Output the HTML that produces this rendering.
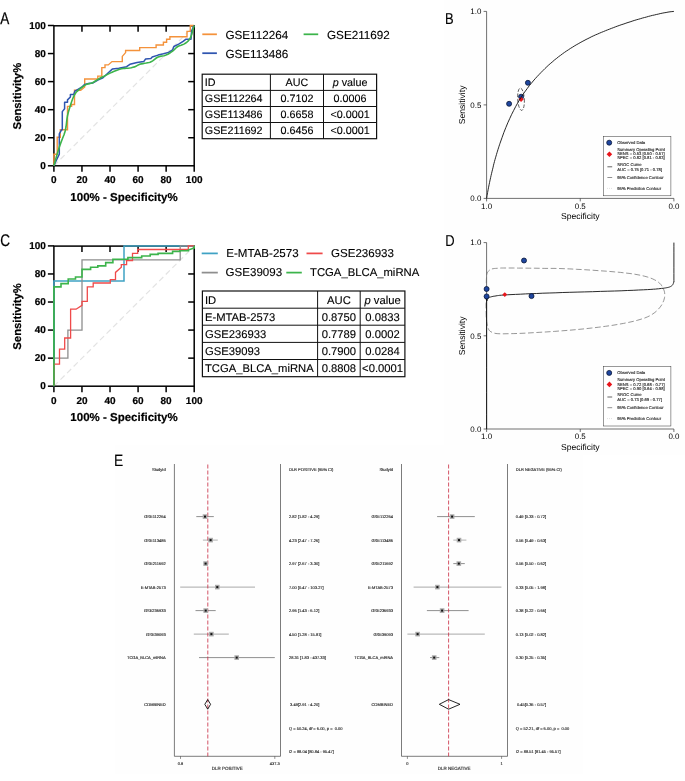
<!DOCTYPE html>
<html lang="en"><head><meta charset="utf-8"><title>Figure</title>
<style>html,body{margin:0;padding:0;background:#fff}svg{display:block}text{white-space:pre;text-rendering:geometricPrecision}</style></head>
<body>
<svg width="685" height="781" viewBox="0 0 685 781" font-family='"Liberation Sans", Arial, sans-serif'>
<rect width="685" height="781" fill="#fff"/>
<rect x="444.5" y="0" width="240.5" height="455" fill="#fefefe"/>
<rect x="114.8" y="445" width="468.6" height="329" fill="#fefefe"/>
<text transform="translate(0.2,23.9) scale(0.8,1)" font-size="16.9" fill="#000" stroke="#000" stroke-width="0.25">A</text>
<line x1="53.9" y1="165.8" x2="194.2" y2="25.8" stroke="#e3e3e3" stroke-width="1.2" stroke-dasharray="5.8 3.5"/>
<rect x="53.9" y="25.8" width="140.30" height="140.00" fill="none" stroke="#000" stroke-width="1.5"/>
<line x1="53.90" y1="165.8" x2="53.90" y2="171.8" stroke="#000" stroke-width="1.5"/>
<line x1="47.9" y1="165.80" x2="53.9" y2="165.80" stroke="#000" stroke-width="1.5"/>
<text x="53.90" y="183.10" font-size="10.0" text-anchor="middle" font-weight="bold" fill="#000" stroke="#000" stroke-width="0.2">0</text>
<text x="45.90" y="169.00" font-size="10.0" text-anchor="end" font-weight="bold" fill="#000" stroke="#000" stroke-width="0.2">0</text>
<line x1="81.96" y1="165.8" x2="81.96" y2="171.8" stroke="#000" stroke-width="1.5"/>
<line x1="47.9" y1="137.74" x2="53.9" y2="137.74" stroke="#000" stroke-width="1.5"/>
<line x1="81.96" y1="25.8" x2="81.96" y2="31.8" stroke="#000" stroke-width="1.5"/>
<line x1="188.2" y1="137.74" x2="194.2" y2="137.74" stroke="#000" stroke-width="1.5"/>
<text x="81.96" y="183.10" font-size="10.0" text-anchor="middle" font-weight="bold" fill="#000" stroke="#000" stroke-width="0.2">20</text>
<text x="45.90" y="140.94" font-size="10.0" text-anchor="end" font-weight="bold" fill="#000" stroke="#000" stroke-width="0.2">20</text>
<line x1="110.02" y1="165.8" x2="110.02" y2="171.8" stroke="#000" stroke-width="1.5"/>
<line x1="47.9" y1="109.68" x2="53.9" y2="109.68" stroke="#000" stroke-width="1.5"/>
<line x1="110.02" y1="25.8" x2="110.02" y2="31.8" stroke="#000" stroke-width="1.5"/>
<line x1="188.2" y1="109.68" x2="194.2" y2="109.68" stroke="#000" stroke-width="1.5"/>
<text x="110.02" y="183.10" font-size="10.0" text-anchor="middle" font-weight="bold" fill="#000" stroke="#000" stroke-width="0.2">40</text>
<text x="45.90" y="112.88" font-size="10.0" text-anchor="end" font-weight="bold" fill="#000" stroke="#000" stroke-width="0.2">40</text>
<line x1="138.08" y1="165.8" x2="138.08" y2="171.8" stroke="#000" stroke-width="1.5"/>
<line x1="47.9" y1="81.62" x2="53.9" y2="81.62" stroke="#000" stroke-width="1.5"/>
<line x1="138.08" y1="25.8" x2="138.08" y2="31.8" stroke="#000" stroke-width="1.5"/>
<line x1="188.2" y1="81.62" x2="194.2" y2="81.62" stroke="#000" stroke-width="1.5"/>
<text x="138.08" y="183.10" font-size="10.0" text-anchor="middle" font-weight="bold" fill="#000" stroke="#000" stroke-width="0.2">60</text>
<text x="45.90" y="84.82" font-size="10.0" text-anchor="end" font-weight="bold" fill="#000" stroke="#000" stroke-width="0.2">60</text>
<line x1="166.14" y1="165.8" x2="166.14" y2="171.8" stroke="#000" stroke-width="1.5"/>
<line x1="47.9" y1="53.56" x2="53.9" y2="53.56" stroke="#000" stroke-width="1.5"/>
<line x1="166.14" y1="25.8" x2="166.14" y2="31.8" stroke="#000" stroke-width="1.5"/>
<line x1="188.2" y1="53.56" x2="194.2" y2="53.56" stroke="#000" stroke-width="1.5"/>
<text x="166.14" y="183.10" font-size="10.0" text-anchor="middle" font-weight="bold" fill="#000" stroke="#000" stroke-width="0.2">80</text>
<text x="45.90" y="56.76" font-size="10.0" text-anchor="end" font-weight="bold" fill="#000" stroke="#000" stroke-width="0.2">80</text>
<line x1="194.20" y1="165.8" x2="194.20" y2="171.8" stroke="#000" stroke-width="1.5"/>
<line x1="47.9" y1="25.50" x2="53.9" y2="25.50" stroke="#000" stroke-width="1.5"/>
<text x="194.20" y="183.10" font-size="10.0" text-anchor="middle" font-weight="bold" fill="#000" stroke="#000" stroke-width="0.2">100</text>
<text x="45.90" y="28.70" font-size="10.0" text-anchor="end" font-weight="bold" fill="#000" stroke="#000" stroke-width="0.2">100</text>
<text x="124.05" y="200.50" font-size="11.5" text-anchor="middle" font-weight="bold" fill="#000" stroke="#000" stroke-width="0.2">100% - Specificity%</text>
<text transform="translate(20.8,96.1) rotate(-90)" font-size="11.3" text-anchor="middle" font-weight="bold" fill="#000" stroke="#000" stroke-width="0.2">Sensitivity%</text>
<polyline points="53.9,165.7 53.9,154.3 57.2,154.3 57.2,137.3 60.3,137.3 60.3,129.7 67.5,129.7 67.5,106.4 71.6,106.4 71.6,104.5 74.5,104.5 74.5,98.2 74.5,90.2 80.7,90.2 84.7,87.0 84.7,79.0 97.8,79.0 97.8,76.1 101.8,76.1 101.8,67.6 105.0,67.6 105.0,64.9 108.3,64.9 112.0,61.6 122.3,61.6 122.3,56.4 125.6,52.6 125.6,50.5 139.7,50.5 139.7,47.6 156.1,47.6 156.1,45.0 163.4,45.0 163.4,42.3 166.6,42.3 166.6,39.3 169.9,39.3 169.9,36.7 187.0,36.7 187.0,31.4 190.3,31.4 190.3,25.5 194.2,25.5" fill="none" stroke="#f4923b" stroke-width="1.4" stroke-linejoin="miter"/>
<polyline points="53.9,165.7 56.5,160.0 59.3,154.2 59.3,133.8 61.7,129.7 62.3,129.7 62.3,111.6 64.6,108.7 64.6,102.3 67.5,102.3 67.5,99.9 70.4,97.0 70.4,94.6 73.7,94.6 74.8,91.2 78.0,89.3 82.0,87.0 84.7,84.4 88.5,83.6 92.6,83.1 97.8,80.0 103.0,77.8 108.3,72.8 112.3,69.1 118.8,68.2 126.6,66.7 129.9,64.3 137.1,62.6 143.7,61.6 145.6,59.0 150.9,58.4 152.2,57.0 158.1,55.1 163.4,53.8 168.6,52.4 172.6,49.8 173.9,46.5 179.1,43.9 183.1,41.3 185.7,39.3 191.0,39.3 191.6,30.8 192.9,28.1 194.2,25.5" fill="none" stroke="#2f55b0" stroke-width="1.5" stroke-linejoin="round"/>
<polyline points="53.9,165.7 54.9,162.3 56.2,157.5 57.8,152.1 59.3,147.2 60.8,142.9 62.4,138.8 64.0,134.8 65.2,130.9 66.0,127.0 66.5,123.2 66.9,119.4 67.5,115.7 68.4,112.0 69.5,108.3 70.6,104.8 71.6,101.7 72.5,99.2 73.4,97.0 74.4,95.2 75.3,93.6 76.2,92.3 77.2,91.3 78.2,90.4 79.4,89.4 80.9,88.2 82.5,86.9 84.3,85.6 86.0,84.6 87.7,84.0 89.3,83.6 91.0,83.3 92.6,82.7 94.2,81.8 95.8,80.8 97.5,79.7 99.1,78.7 100.7,77.8 102.3,77.0 104.0,76.3 105.7,75.4 107.6,74.4 109.6,73.4 111.6,72.4 113.6,71.5 115.6,70.7 117.6,69.9 119.6,69.3 121.5,68.8 123.2,68.5 124.8,68.4 126.3,68.3 127.9,68.2 129.6,68.0 131.3,67.7 132.9,67.3 134.5,66.9 135.9,66.3 137.1,65.6 138.3,64.9 139.7,64.3 141.3,63.9 143.0,63.6 144.7,63.3 146.3,63.0 147.7,62.7 148.9,62.5 150.1,62.2 151.5,61.6 153.0,60.6 154.6,59.3 156.3,58.0 158.1,57.0 160.0,56.4 162.1,56.0 164.1,55.7 166.0,55.1 167.8,54.3 169.5,53.3 171.1,52.2 172.6,51.1 174.0,49.9 175.2,48.7 176.4,47.5 177.8,46.5 179.4,45.7 181.1,45.2 182.9,44.6 184.4,43.9 185.7,43.0 186.9,42.1 188.0,41.1 189.0,40.0 189.8,38.8 190.5,37.4 191.1,36.1 191.6,34.7 192.0,33.4 192.3,32.0 192.6,30.7 192.9,29.5 193.3,28.3 193.6,27.2 194.0,26.2 194.2,25.5" fill="none" stroke="#3cb44b" stroke-width="1.6" stroke-linejoin="round"/>
<line x1="202.3" y1="34.3" x2="216.9" y2="34.3" stroke="#f4923b" stroke-width="1.75"/>
<text x="225.40" y="38.60" font-size="11.7" text-anchor="start" font-weight="normal" fill="#000"  stroke="#000" stroke-width="0.12">GSE112264</text>
<line x1="303.6" y1="34.3" x2="318.2" y2="34.3" stroke="#3cb44b" stroke-width="1.75"/>
<text x="327.00" y="38.60" font-size="11.7" text-anchor="start" font-weight="normal" fill="#000"  stroke="#000" stroke-width="0.12">GSE211692</text>
<line x1="202.3" y1="53.2" x2="216.9" y2="53.2" stroke="#2f55b0" stroke-width="1.75"/>
<text x="225.40" y="57.50" font-size="11.7" text-anchor="start" font-weight="normal" fill="#000"  stroke="#000" stroke-width="0.12">GSE113486</text>
<rect x="202.2" y="74.2" width="174.40" height="64.50" fill="#fff" stroke="#111" stroke-width="1.2"/>
<line x1="270.4" y1="74.2" x2="270.4" y2="138.7" stroke="#111" stroke-width="1.0"/>
<line x1="323.5" y1="74.2" x2="323.5" y2="138.7" stroke="#111" stroke-width="1.0"/>
<line x1="202.2" y1="90.4" x2="376.6" y2="90.4" stroke="#111" stroke-width="1.0"/>
<line x1="202.2" y1="106.5" x2="376.6" y2="106.5" stroke="#111" stroke-width="1.0"/>
<line x1="202.2" y1="122.5" x2="376.6" y2="122.5" stroke="#111" stroke-width="1.0"/>
<text x="204.80" y="85.80" font-size="10.75" text-anchor="start" font-weight="normal" fill="#000"  stroke="#000" stroke-width="0.12">ID</text>
<text x="296.95" y="85.80" font-size="10.75" text-anchor="middle" font-weight="normal" fill="#000"  stroke="#000" stroke-width="0.12">AUC</text>
<text x="350.05" y="85.80" font-size="10.75" text-anchor="middle" font-weight="normal" fill="#000"  stroke="#000" stroke-width="0.12"><tspan font-style="italic">p</tspan> value</text>
<text x="204.80" y="101.90" font-size="10.75" text-anchor="start" font-weight="normal" fill="#000"  stroke="#000" stroke-width="0.12">GSE112264</text>
<text x="296.95" y="101.90" font-size="10.75" text-anchor="middle" font-weight="normal" fill="#000"  stroke="#000" stroke-width="0.12">0.7102</text>
<text x="350.05" y="101.90" font-size="10.75" text-anchor="middle" font-weight="normal" fill="#000"  stroke="#000" stroke-width="0.12">0.0006</text>
<text x="204.80" y="117.90" font-size="10.75" text-anchor="start" font-weight="normal" fill="#000"  stroke="#000" stroke-width="0.12">GSE113486</text>
<text x="296.95" y="117.90" font-size="10.75" text-anchor="middle" font-weight="normal" fill="#000"  stroke="#000" stroke-width="0.12">0.6658</text>
<text x="350.05" y="117.90" font-size="10.75" text-anchor="middle" font-weight="normal" fill="#000"  stroke="#000" stroke-width="0.12">&lt;0.0001</text>
<text x="204.80" y="134.10" font-size="10.75" text-anchor="start" font-weight="normal" fill="#000"  stroke="#000" stroke-width="0.12">GSE211692</text>
<text x="296.95" y="134.10" font-size="10.75" text-anchor="middle" font-weight="normal" fill="#000"  stroke="#000" stroke-width="0.12">0.6456</text>
<text x="350.05" y="134.10" font-size="10.75" text-anchor="middle" font-weight="normal" fill="#000"  stroke="#000" stroke-width="0.12">&lt;0.0001</text>
<text transform="translate(0.3,246.1) scale(0.8,1)" font-size="16.9" fill="#000" stroke="#000" stroke-width="0.25">C</text>
<line x1="53.9" y1="386.2" x2="194.2" y2="246.1" stroke="#e3e3e3" stroke-width="1.2" stroke-dasharray="5.8 3.5"/>
<rect x="53.9" y="246.1" width="140.30" height="140.10" fill="none" stroke="#000" stroke-width="1.5"/>
<line x1="53.90" y1="386.2" x2="53.90" y2="392.2" stroke="#000" stroke-width="1.5"/>
<line x1="47.9" y1="386.20" x2="53.9" y2="386.20" stroke="#000" stroke-width="1.5"/>
<text x="53.90" y="403.50" font-size="10.0" text-anchor="middle" font-weight="bold" fill="#000" stroke="#000" stroke-width="0.2">0</text>
<text x="45.90" y="389.40" font-size="10.0" text-anchor="end" font-weight="bold" fill="#000" stroke="#000" stroke-width="0.2">0</text>
<line x1="81.96" y1="386.2" x2="81.96" y2="392.2" stroke="#000" stroke-width="1.5"/>
<line x1="47.9" y1="358.14" x2="53.9" y2="358.14" stroke="#000" stroke-width="1.5"/>
<line x1="81.96" y1="246.1" x2="81.96" y2="252.1" stroke="#000" stroke-width="1.5"/>
<line x1="188.2" y1="358.14" x2="194.2" y2="358.14" stroke="#000" stroke-width="1.5"/>
<text x="81.96" y="403.50" font-size="10.0" text-anchor="middle" font-weight="bold" fill="#000" stroke="#000" stroke-width="0.2">20</text>
<text x="45.90" y="361.34" font-size="10.0" text-anchor="end" font-weight="bold" fill="#000" stroke="#000" stroke-width="0.2">20</text>
<line x1="110.02" y1="386.2" x2="110.02" y2="392.2" stroke="#000" stroke-width="1.5"/>
<line x1="47.9" y1="330.08" x2="53.9" y2="330.08" stroke="#000" stroke-width="1.5"/>
<line x1="110.02" y1="246.1" x2="110.02" y2="252.1" stroke="#000" stroke-width="1.5"/>
<line x1="188.2" y1="330.08" x2="194.2" y2="330.08" stroke="#000" stroke-width="1.5"/>
<text x="110.02" y="403.50" font-size="10.0" text-anchor="middle" font-weight="bold" fill="#000" stroke="#000" stroke-width="0.2">40</text>
<text x="45.90" y="333.28" font-size="10.0" text-anchor="end" font-weight="bold" fill="#000" stroke="#000" stroke-width="0.2">40</text>
<line x1="138.08" y1="386.2" x2="138.08" y2="392.2" stroke="#000" stroke-width="1.5"/>
<line x1="47.9" y1="302.02" x2="53.9" y2="302.02" stroke="#000" stroke-width="1.5"/>
<line x1="138.08" y1="246.1" x2="138.08" y2="252.1" stroke="#000" stroke-width="1.5"/>
<line x1="188.2" y1="302.02" x2="194.2" y2="302.02" stroke="#000" stroke-width="1.5"/>
<text x="138.08" y="403.50" font-size="10.0" text-anchor="middle" font-weight="bold" fill="#000" stroke="#000" stroke-width="0.2">60</text>
<text x="45.90" y="305.22" font-size="10.0" text-anchor="end" font-weight="bold" fill="#000" stroke="#000" stroke-width="0.2">60</text>
<line x1="166.14" y1="386.2" x2="166.14" y2="392.2" stroke="#000" stroke-width="1.5"/>
<line x1="47.9" y1="273.96" x2="53.9" y2="273.96" stroke="#000" stroke-width="1.5"/>
<line x1="166.14" y1="246.1" x2="166.14" y2="252.1" stroke="#000" stroke-width="1.5"/>
<line x1="188.2" y1="273.96" x2="194.2" y2="273.96" stroke="#000" stroke-width="1.5"/>
<text x="166.14" y="403.50" font-size="10.0" text-anchor="middle" font-weight="bold" fill="#000" stroke="#000" stroke-width="0.2">80</text>
<text x="45.90" y="277.16" font-size="10.0" text-anchor="end" font-weight="bold" fill="#000" stroke="#000" stroke-width="0.2">80</text>
<line x1="194.20" y1="386.2" x2="194.20" y2="392.2" stroke="#000" stroke-width="1.5"/>
<line x1="47.9" y1="245.90" x2="53.9" y2="245.90" stroke="#000" stroke-width="1.5"/>
<text x="194.20" y="403.50" font-size="10.0" text-anchor="middle" font-weight="bold" fill="#000" stroke="#000" stroke-width="0.2">100</text>
<text x="45.90" y="249.10" font-size="10.0" text-anchor="end" font-weight="bold" fill="#000" stroke="#000" stroke-width="0.2">100</text>
<text x="124.05" y="420.90" font-size="11.5" text-anchor="middle" font-weight="bold" fill="#000" stroke="#000" stroke-width="0.2">100% - Specificity%</text>
<text transform="translate(20.8,316.4) rotate(-90)" font-size="11.3" text-anchor="middle" font-weight="bold" fill="#000" stroke="#000" stroke-width="0.2">Sensitivity%</text>
<polyline points="53.9,386.2 53.9,281.0 124.0,281.0 124.0,245.9 194.2,245.9" fill="none" stroke="#3fa2c4" stroke-width="1.5"/>
<polyline points="53.9,386.2 53.9,358.1 67.9,358.1 67.9,330.1 82.0,330.1 82.0,259.9 180.2,259.9 180.2,245.9 194.2,245.9" fill="none" stroke="#8e8e8e" stroke-width="1.3"/>
<polyline points="53.9,386.1 53.9,364.1 59.5,364.1 59.5,349.2 64.7,349.2 64.7,338.0 70.6,338.0 70.6,309.2 76.1,309.2 82.0,305.3 82.0,301.4 87.3,301.4 87.3,286.9 93.2,286.9 93.2,283.0 110.3,283.0 110.3,279.7 115.5,279.7 115.5,272.4 121.3,267.2 121.3,264.6 126.6,264.6 126.6,260.6 132.5,260.6 132.5,253.4 137.7,253.4 137.7,249.5 188.3,249.5 188.3,245.8 194.2,245.8" fill="none" stroke="#ef4a4a" stroke-width="1.3"/>
<polyline points="53.9,386.1 53.9,286.9 61.0,286.9 61.0,283.6 68.2,283.6 68.2,279.0 75.5,279.0 75.5,277.0 82.0,277.0 82.0,275.7 82.0,269.4 90.6,269.4 90.6,267.2 97.8,267.2 97.8,265.9 105.7,265.9 105.7,262.6 112.9,262.6 112.9,259.3 127.9,259.3 127.9,257.6 141.7,257.6 141.7,256.0 150.2,256.0 150.2,254.4 158.1,254.4 158.1,253.4 172.6,253.4 172.6,251.4 179.8,251.4 179.8,250.8 188.3,250.8 188.3,250.0 194.2,248.0 194.2,245.8" fill="none" stroke="#3cb44b" stroke-width="1.6"/>
<line x1="201.7" y1="253.4" x2="217.8" y2="253.4" stroke="#3fa2c4" stroke-width="1.75"/>
<text x="226.30" y="257.00" font-size="11.55" text-anchor="start" font-weight="normal" fill="#000"  stroke="#000" stroke-width="0.12">E-MTAB-2573</text>
<line x1="306.5" y1="253.4" x2="322.6" y2="253.4" stroke="#ef4a4a" stroke-width="1.75"/>
<text x="331.00" y="257.00" font-size="11.55" text-anchor="start" font-weight="normal" fill="#000"  stroke="#000" stroke-width="0.12">GSE236933</text>
<line x1="201.7" y1="272.6" x2="217.8" y2="272.6" stroke="#8e8e8e" stroke-width="1.75"/>
<text x="225.60" y="276.40" font-size="11.55" text-anchor="start" font-weight="normal" fill="#000"  stroke="#000" stroke-width="0.12">GSE39093</text>
<line x1="286.3" y1="272.6" x2="301.8" y2="272.6" stroke="#3cb44b" stroke-width="1.75"/>
<text x="310.00" y="276.40" font-size="11.3" text-anchor="start" font-weight="normal" fill="#000"  stroke="#000" stroke-width="0.12">TCGA_BLCA_miRNA</text>
<rect x="202.4" y="291" width="202.50" height="85.70" fill="#fff" stroke="#111" stroke-width="1.2"/>
<line x1="317.6" y1="291" x2="317.6" y2="376.7" stroke="#111" stroke-width="1.0"/>
<line x1="360.2" y1="291" x2="360.2" y2="376.7" stroke="#111" stroke-width="1.0"/>
<line x1="202.4" y1="308.2" x2="404.9" y2="308.2" stroke="#111" stroke-width="1.0"/>
<line x1="202.4" y1="325.2" x2="404.9" y2="325.2" stroke="#111" stroke-width="1.0"/>
<line x1="202.4" y1="342.4" x2="404.9" y2="342.4" stroke="#111" stroke-width="1.0"/>
<line x1="202.4" y1="359.5" x2="404.9" y2="359.5" stroke="#111" stroke-width="1.0"/>
<text x="205.00" y="303.80" font-size="11.24" text-anchor="start" font-weight="normal" fill="#000"  stroke="#000" stroke-width="0.12">ID</text>
<text x="338.90" y="303.80" font-size="11.24" text-anchor="middle" font-weight="normal" fill="#000"  stroke="#000" stroke-width="0.12">AUC</text>
<text x="382.55" y="303.80" font-size="11.24" text-anchor="middle" font-weight="normal" fill="#000"  stroke="#000" stroke-width="0.12"><tspan font-style="italic">p</tspan> value</text>
<text x="205.00" y="320.80" font-size="11.24" text-anchor="start" font-weight="normal" fill="#000"  stroke="#000" stroke-width="0.12">E-MTAB-2573</text>
<text x="338.90" y="320.80" font-size="11.24" text-anchor="middle" font-weight="normal" fill="#000"  stroke="#000" stroke-width="0.12">0.8750</text>
<text x="382.55" y="320.80" font-size="11.24" text-anchor="middle" font-weight="normal" fill="#000"  stroke="#000" stroke-width="0.12">0.0833</text>
<text x="205.00" y="338.00" font-size="11.24" text-anchor="start" font-weight="normal" fill="#000"  stroke="#000" stroke-width="0.12">GSE236933</text>
<text x="338.90" y="338.00" font-size="11.24" text-anchor="middle" font-weight="normal" fill="#000"  stroke="#000" stroke-width="0.12">0.7789</text>
<text x="382.55" y="338.00" font-size="11.24" text-anchor="middle" font-weight="normal" fill="#000"  stroke="#000" stroke-width="0.12">0.0002</text>
<text x="205.00" y="355.10" font-size="11.24" text-anchor="start" font-weight="normal" fill="#000"  stroke="#000" stroke-width="0.12">GSE39093</text>
<text x="338.90" y="355.10" font-size="11.24" text-anchor="middle" font-weight="normal" fill="#000"  stroke="#000" stroke-width="0.12">0.7900</text>
<text x="382.55" y="355.10" font-size="11.24" text-anchor="middle" font-weight="normal" fill="#000"  stroke="#000" stroke-width="0.12">0.0284</text>
<text x="205.00" y="372.30" font-size="11.24" text-anchor="start" font-weight="normal" fill="#000"  stroke="#000" stroke-width="0.12">TCGA_BLCA_miRNA</text>
<text x="338.90" y="372.30" font-size="11.24" text-anchor="middle" font-weight="normal" fill="#000"  stroke="#000" stroke-width="0.12">0.8808</text>
<text x="382.55" y="372.30" font-size="11.24" text-anchor="middle" font-weight="normal" fill="#000"  stroke="#000" stroke-width="0.12">&lt;0.0001</text>
<line x1="486.6" y1="11.4" x2="486.6" y2="198.4" stroke="#333" stroke-width="0.7"/>
<line x1="486.6" y1="198.4" x2="673.9" y2="198.4" stroke="#333" stroke-width="0.7"/>
<line x1="483.6" y1="11.40" x2="486.6" y2="11.40" stroke="#333" stroke-width="0.7"/>
<text x="481.40" y="14.25" font-size="7.95" text-anchor="end" font-weight="normal" fill="#000" >1.0</text>
<line x1="486.60" y1="198.4" x2="486.60" y2="201.4" stroke="#333" stroke-width="0.7"/>
<text x="486.60" y="208.55" font-size="7.95" text-anchor="middle" font-weight="normal" fill="#000" >1.0</text>
<line x1="483.6" y1="104.90" x2="486.6" y2="104.90" stroke="#333" stroke-width="0.7"/>
<text x="481.40" y="107.75" font-size="7.95" text-anchor="end" font-weight="normal" fill="#000" >0.5</text>
<line x1="580.25" y1="198.4" x2="580.25" y2="201.4" stroke="#333" stroke-width="0.7"/>
<text x="580.25" y="208.55" font-size="7.95" text-anchor="middle" font-weight="normal" fill="#000" >0.5</text>
<line x1="483.6" y1="198.40" x2="486.6" y2="198.40" stroke="#333" stroke-width="0.7"/>
<text x="481.40" y="201.25" font-size="7.95" text-anchor="end" font-weight="normal" fill="#000" >0.0</text>
<line x1="673.90" y1="198.4" x2="673.90" y2="201.4" stroke="#333" stroke-width="0.7"/>
<text x="673.90" y="208.55" font-size="7.95" text-anchor="middle" font-weight="normal" fill="#000" >0.0</text>
<text x="580.25" y="219.00" font-size="8.6" text-anchor="middle" font-weight="normal" fill="#000" >Specificity</text>
<text transform="translate(465.0,104.9) rotate(-90)" font-size="8.6" text-anchor="middle" fill="#000">Sensitivity</text>
<text transform="translate(445.0,23.9) scale(0.82,1)" font-size="15.8" fill="#000" stroke="#000" stroke-width="0.1">B</text>
<circle cx="509.1" cy="103.8" r="2.5" fill="#1f469f" stroke="#0a1838" stroke-width="0.8"/>
<circle cx="521.1" cy="96.7" r="2.5" fill="#1f469f" stroke="#0a1838" stroke-width="0.8"/>
<circle cx="527.9" cy="82.8" r="2.5" fill="#1f469f" stroke="#0a1838" stroke-width="0.8"/>
<polygon points="518.5,99.3 521.1,96.7 523.7,99.3 521.1,101.89999999999999" fill="#e8151b"/>
<polyline points="486.6,198.4 487.1,195.4 487.6,192.5 488.1,189.8 488.6,187.2 489.1,184.7 489.6,182.3 490.1,179.9 490.6,177.7 491.1,175.4 491.6,173.3 492.1,171.2 492.6,169.2 493.1,167.2 493.5,165.2 494.0,163.3 494.5,161.4 495.0,159.6 495.5,157.8 496.0,156.1 496.5,154.4 497.0,152.7 497.5,151.1 498.0,149.4 498.5,147.9 499.0,146.3 499.5,144.8 500.0,143.3 502.0,137.7 503.9,132.4 505.9,127.4 507.8,122.8 509.8,118.4 511.7,114.3 513.7,110.4 515.6,106.7 517.6,103.1 519.5,99.8 521.5,96.7 523.4,93.8 525.4,91.0 527.4,88.3 529.3,85.7 531.3,83.3 533.2,81.0 535.2,78.7 537.1,76.6 539.1,74.5 541.0,72.5 543.0,70.5 544.9,68.6 546.9,66.7 548.8,64.9 550.8,63.2 552.8,61.5 554.7,59.8 556.7,58.3 558.6,56.7 560.6,55.3 562.5,53.8 564.5,52.4 566.4,51.1 568.4,49.8 570.3,48.5 572.3,47.3 574.2,46.1 576.2,44.9 578.2,43.8 580.1,42.7 582.1,41.6 584.0,40.6 586.0,39.5 587.9,38.6 589.9,37.6 591.8,36.6 593.8,35.7 595.7,34.8 597.7,34.0 599.7,33.1 601.6,32.3 603.6,31.5 605.5,30.7 607.5,29.9 609.4,29.2 611.4,28.4 613.3,27.7 615.3,26.9 617.2,26.2 619.2,25.5 621.1,24.8 623.1,24.2 625.1,23.5 627.0,22.8 629.0,22.2 630.9,21.6 632.9,20.9 634.8,20.3 636.8,19.7 638.7,19.2 640.7,18.6 642.6,18.0 644.6,17.5 646.5,17.0 648.5,16.4 650.5,15.9 652.4,15.4 654.4,15.0 656.3,14.5 658.3,14.1 660.2,13.6 662.2,13.2 664.1,12.8 666.1,12.5 668.0,12.1 670.0,11.8 671.9,11.6 673.9,11.4" fill="none" stroke="#111" stroke-width="0.9"/>
<ellipse cx="521.0" cy="99.2" rx="3.3" ry="11.2" transform="rotate(-3.5 521.0 99.2)" fill="none" stroke="#222" stroke-width="0.7" stroke-dasharray="3.6 1.7"/>
<rect x="603.5" y="136.3" width="67.4" height="59.5" fill="#fff" stroke="#333" stroke-width="0.5"/>
<circle cx="609.2" cy="142.70000000000002" r="2.5" fill="#1f469f" stroke="#0a1838" stroke-width="0.8"/>
<polygon points="606.6000000000001,154.20000000000002 609.4000000000001,151.4 612.2,154.20000000000002 609.4000000000001,157.00000000000003" fill="#e8151b"/>
<line x1="607.4" y1="166.8" x2="612.2" y2="166.8" stroke="#222" stroke-width="0.7"/>
<line x1="607.4" y1="177.5" x2="612.2" y2="177.5" stroke="#444" stroke-width="0.6"/>
<line x1="607.4" y1="188.4" x2="612.2" y2="188.4" stroke="#999" stroke-width="0.5" stroke-dasharray="0.6 1.2"/>
<text x="617.30" y="144.15" font-size="4.15" text-anchor="start" font-weight="normal" fill="#222"  stroke="#333" stroke-width="0.14">Observed Data</text>
<text x="617.30" y="151.15" font-size="4.15" text-anchor="start" font-weight="normal" fill="#222"  stroke="#333" stroke-width="0.14">Summary Operating Point</text>
<text x="617.30" y="155.35" font-size="4.15" text-anchor="start" font-weight="normal" fill="#222"  stroke="#333" stroke-width="0.14">SENS = 0.53 [0.50 - 0.57]</text>
<text x="617.30" y="159.45" font-size="4.15" text-anchor="start" font-weight="normal" fill="#222"  stroke="#333" stroke-width="0.14">SPEC = 0.82 [0.81 - 0.83]</text>
<text x="617.30" y="166.25" font-size="4.15" text-anchor="start" font-weight="normal" fill="#222"  stroke="#333" stroke-width="0.14">SROC Curve</text>
<text x="617.30" y="170.55" font-size="4.15" text-anchor="start" font-weight="normal" fill="#222"  stroke="#333" stroke-width="0.14">AUC = 0.75 [0.71 - 0.78]</text>
<text x="617.30" y="178.95" font-size="4.15" text-anchor="start" font-weight="normal" fill="#222"  stroke="#333" stroke-width="0.14">95% Confidence Contour</text>
<text x="617.30" y="189.85" font-size="4.15" text-anchor="start" font-weight="normal" fill="#222"  stroke="#333" stroke-width="0.14">95% Prediction Contour</text>
<line x1="486.6" y1="242.6" x2="486.6" y2="429.0" stroke="#333" stroke-width="0.7"/>
<line x1="486.6" y1="429.0" x2="673.9" y2="429.0" stroke="#333" stroke-width="0.7"/>
<line x1="483.6" y1="242.60" x2="486.6" y2="242.60" stroke="#333" stroke-width="0.7"/>
<text x="481.40" y="245.45" font-size="7.95" text-anchor="end" font-weight="normal" fill="#000" >1.0</text>
<line x1="486.60" y1="429.0" x2="486.60" y2="432.0" stroke="#333" stroke-width="0.7"/>
<text x="486.60" y="439.15" font-size="7.95" text-anchor="middle" font-weight="normal" fill="#000" >1.0</text>
<line x1="483.6" y1="335.80" x2="486.6" y2="335.80" stroke="#333" stroke-width="0.7"/>
<text x="481.40" y="338.65" font-size="7.95" text-anchor="end" font-weight="normal" fill="#000" >0.5</text>
<line x1="580.25" y1="429.0" x2="580.25" y2="432.0" stroke="#333" stroke-width="0.7"/>
<text x="580.25" y="439.15" font-size="7.95" text-anchor="middle" font-weight="normal" fill="#000" >0.5</text>
<line x1="483.6" y1="429.00" x2="486.6" y2="429.00" stroke="#333" stroke-width="0.7"/>
<text x="481.40" y="431.85" font-size="7.95" text-anchor="end" font-weight="normal" fill="#000" >0.0</text>
<line x1="673.90" y1="429.0" x2="673.90" y2="432.0" stroke="#333" stroke-width="0.7"/>
<text x="673.90" y="439.15" font-size="7.95" text-anchor="middle" font-weight="normal" fill="#000" >0.0</text>
<text x="580.25" y="449.60" font-size="8.6" text-anchor="middle" font-weight="normal" fill="#000" >Specificity</text>
<text transform="translate(465.0,335.8) rotate(-90)" font-size="8.6" text-anchor="middle" fill="#000">Sensitivity</text>
<text transform="translate(445.2,246.0) scale(0.82,1)" font-size="15.8" fill="#000" stroke="#000" stroke-width="0.1">D</text>
<polyline points="486.2,316.8 486.2,315.1 486.1,312.7 486.1,309.9 486.0,306.7 486.0,303.4 486.0,300.0 486.0,296.2 486.1,292.0 486.2,287.5 486.3,283.2 486.4,279.3 486.6,276.4 486.8,274.4 487.1,273.2 487.4,272.5 487.7,272.0 488.1,271.7 488.5,271.2 488.9,270.6 489.4,270.2 489.9,269.8 490.4,269.4 491.1,269.2 492.0,268.9 493.1,268.7 494.3,268.5 495.6,268.4 497.0,268.3 498.5,268.2 500.0,268.1 501.3,268.0 502.4,268.0 503.6,268.0 505.0,268.0 507.1,268.0 509.9,268.0 513.8,268.0 518.4,268.1 523.7,268.1 529.2,268.2 534.8,268.2 540.0,268.3 544.8,268.4 549.4,268.4 554.0,268.4 558.8,268.5 564.0,268.7 569.8,268.9 576.6,269.3 584.3,269.7 592.4,270.2 600.5,270.8 608.1,271.3 614.7,271.9 620.4,272.4 625.4,273.0 630.0,273.5 634.2,274.1 638.0,274.8 641.6,275.5 644.9,276.3 647.8,277.1 650.4,278.0 652.7,278.9 654.7,279.9 656.6,280.9 658.2,282.0 659.6,283.2 660.8,284.4 661.7,285.7 662.5,287.0 663.2,288.4 663.8,289.8 664.3,291.2 664.6,292.7 664.8,294.2 664.8,295.7 664.6,297.3 664.2,299.0 663.7,300.7 662.9,302.5 662.0,304.4 660.9,306.1 659.6,307.8 658.1,309.4 656.6,311.0 654.8,312.5 652.7,314.0 650.4,315.5 647.6,316.8 644.5,318.1 641.0,319.2 637.3,320.3 633.1,321.4 628.6,322.4 623.6,323.4 618.0,324.4 612.0,325.4 605.5,326.3 598.7,327.2 591.7,328.0 584.7,328.8 577.5,329.5 569.9,330.2 562.1,330.8 554.4,331.4 546.9,331.9 539.9,332.3 533.1,332.7 526.4,333.1 519.8,333.4 513.8,333.6 508.4,333.7 503.9,333.8 500.4,333.8 497.9,333.7 496.0,333.5 494.5,333.2 493.3,332.8 492.0,332.3 490.8,331.7 489.9,331.1 489.3,330.4 488.7,329.5 488.3,328.5 487.8,327.3 487.4,325.7 487.0,323.8 486.7,321.7 486.5,319.7 486.3,318.0 486.2,316.8" fill="none" stroke="#6a6a6a" stroke-width="0.7" stroke-dasharray="5.8 2.6"/>
<polyline points="486.6,429.0 486.6,414.3 486.6,392.7 486.6,367.8 486.6,342.8 486.6,321.1 486.6,306.0 486.6,298.3 486.6,295.5 486.7,296.0 486.7,298.1 486.8,300.3 486.9,301.0 487.0,300.4 487.2,299.9 487.3,299.4 487.5,299.0 487.7,298.6 488.0,298.3 488.3,298.0 488.6,297.8 489.0,297.6 489.4,297.4 489.9,297.2 490.5,297.0 491.2,296.8 492.0,296.6 492.9,296.4 493.9,296.2 494.9,296.1 496.0,295.9 497.0,295.7 497.7,295.6 498.6,295.5 499.8,295.3 501.5,295.2 503.9,295.0 507.2,294.8 511.0,294.6 515.5,294.4 520.3,294.2 525.5,293.9 530.9,293.7 536.6,293.5 542.8,293.2 549.2,293.0 555.9,292.8 562.8,292.5 569.8,292.3 577.1,292.1 584.8,291.9 592.6,291.7 600.4,291.4 607.8,291.2 614.7,291.0 621.1,290.8 627.3,290.5 633.2,290.3 638.6,290.0 643.4,289.8 647.6,289.6 650.9,289.4 653.4,289.2 655.4,289.1 657.0,288.9 658.4,288.8 660.0,288.6 661.6,288.4 663.1,288.3 664.4,288.1 665.6,287.9 666.7,287.7 667.7,287.5 668.6,287.3 669.3,287.1 669.9,286.8 670.4,286.6 670.9,286.4 671.3,286.1 671.7,285.8 672.0,285.5 672.3,285.3 672.6,285.0 672.8,284.6 673.0,284.3 673.2,284.0 673.3,283.6 673.4,283.3 673.5,282.9 673.6,282.5 673.7,282.0 673.8,281.8 673.8,282.0 673.8,282.1 673.9,281.7 673.9,280.5 673.9,278.0 673.9,273.5 673.9,267.2 673.9,260.0 673.9,252.9 673.9,246.8 673.9,242.6" fill="none" stroke="#111" stroke-width="0.9"/>
<circle cx="524" cy="260.5" r="2.5" fill="#1f469f" stroke="#0a1838" stroke-width="0.8"/>
<circle cx="486.6" cy="289" r="2.5" fill="#1f469f" stroke="#0a1838" stroke-width="0.8"/>
<circle cx="486.6" cy="296.4" r="2.5" fill="#1f469f" stroke="#0a1838" stroke-width="0.8"/>
<circle cx="531.5" cy="296.1" r="2.5" fill="#1f469f" stroke="#0a1838" stroke-width="0.8"/>
<polygon points="502.40000000000003,294.6 504.8,292.20000000000005 507.2,294.6 504.8,297.0" fill="#e8151b"/>
<rect x="603.5" y="366.5" width="67.4" height="59.5" fill="#fff" stroke="#333" stroke-width="0.5"/>
<circle cx="609.2" cy="372.9" r="2.5" fill="#1f469f" stroke="#0a1838" stroke-width="0.8"/>
<polygon points="606.6000000000001,384.4 609.4000000000001,381.59999999999997 612.2,384.4 609.4000000000001,387.2" fill="#e8151b"/>
<line x1="607.4" y1="397.0" x2="612.2" y2="397.0" stroke="#222" stroke-width="0.7"/>
<line x1="607.4" y1="407.7" x2="612.2" y2="407.7" stroke="#444" stroke-width="0.6"/>
<line x1="607.4" y1="418.6" x2="612.2" y2="418.6" stroke="#999" stroke-width="0.5" stroke-dasharray="0.6 1.2"/>
<text x="617.30" y="374.35" font-size="4.15" text-anchor="start" font-weight="normal" fill="#222"  stroke="#333" stroke-width="0.14">Observed Data</text>
<text x="617.30" y="381.35" font-size="4.15" text-anchor="start" font-weight="normal" fill="#222"  stroke="#333" stroke-width="0.14">Summary Operating Point</text>
<text x="617.30" y="385.55" font-size="4.15" text-anchor="start" font-weight="normal" fill="#222"  stroke="#333" stroke-width="0.14">SENS = 0.72 [0.68 - 0.77]</text>
<text x="617.30" y="389.65" font-size="4.15" text-anchor="start" font-weight="normal" fill="#222"  stroke="#333" stroke-width="0.14">SPEC = 0.90 [0.64 - 0.98]</text>
<text x="617.30" y="396.45" font-size="4.15" text-anchor="start" font-weight="normal" fill="#222"  stroke="#333" stroke-width="0.14">SROC Curve</text>
<text x="617.30" y="400.75" font-size="4.15" text-anchor="start" font-weight="normal" fill="#222"  stroke="#333" stroke-width="0.14">AUC = 0.73 [0.69 - 0.77]</text>
<text x="617.30" y="409.15" font-size="4.15" text-anchor="start" font-weight="normal" fill="#222"  stroke="#333" stroke-width="0.14">95% Confidence Contour</text>
<text x="617.30" y="420.05" font-size="4.15" text-anchor="start" font-weight="normal" fill="#222"  stroke="#333" stroke-width="0.14">95% Prediction Contour</text>
<text transform="translate(113.9,466.1) scale(0.84,1)" font-size="16.5" fill="#000" stroke="#000" stroke-width="0.05">E</text>
<line x1="174.4" y1="464" x2="174.4" y2="756.3" stroke="#444" stroke-width="0.7"/>
<line x1="280.5" y1="464" x2="280.5" y2="756.3" stroke="#444" stroke-width="0.7"/>
<line x1="174.4" y1="756.3" x2="280.5" y2="756.3" stroke="#444" stroke-width="0.7"/>
<line x1="180.5" y1="756.3" x2="180.5" y2="758.9" stroke="#444" stroke-width="0.6"/>
<text x="180.50" y="765.00" font-size="3.95" text-anchor="middle" font-weight="normal" fill="#222"  stroke="#333" stroke-width="0.14">0.8</text>
<line x1="274.8" y1="756.3" x2="274.8" y2="758.9" stroke="#444" stroke-width="0.6"/>
<text x="274.80" y="765.00" font-size="3.95" text-anchor="middle" font-weight="normal" fill="#222"  stroke="#333" stroke-width="0.14">437.3</text>
<text x="227.20" y="770.40" font-size="4.5" text-anchor="middle" font-weight="normal" fill="#222"  stroke="#333" stroke-width="0.14">DLR POSITIVE</text>
<text x="165.70" y="471.00" font-size="4.0" text-anchor="end" font-weight="normal" fill="#222"  stroke="#333" stroke-width="0.14">StudyId</text>
<text x="289.00" y="471.00" font-size="4.0" text-anchor="start" font-weight="normal" fill="#222"  stroke="#333" stroke-width="0.14">DLR POSITIVE (95% CI)</text>
<text x="165.70" y="518.00" font-size="4.0" text-anchor="end" font-weight="normal" fill="#222"  stroke="#333" stroke-width="0.14">GSE112264</text>
<text x="289.00" y="518.00" font-size="4.0" text-anchor="start" font-weight="normal" fill="#222"  stroke="#333" stroke-width="0.14">2.82 [1.82 - 4.29]</text>
<line x1="196.3" y1="516.6" x2="213.8" y2="516.6" stroke="#333" stroke-width="0.55"/>
<text x="165.70" y="541.50" font-size="4.0" text-anchor="end" font-weight="normal" fill="#222"  stroke="#333" stroke-width="0.14">GSE113486</text>
<text x="289.00" y="541.50" font-size="4.0" text-anchor="start" font-weight="normal" fill="#222"  stroke="#333" stroke-width="0.14">4.23 [2.47 - 7.26]</text>
<line x1="202.9" y1="540.1" x2="217.8" y2="540.1" stroke="#b9b9b9" stroke-width="1.1"/>
<text x="165.70" y="565.00" font-size="4.0" text-anchor="end" font-weight="normal" fill="#222"  stroke="#333" stroke-width="0.14">GSE211692</text>
<text x="289.00" y="565.00" font-size="4.0" text-anchor="start" font-weight="normal" fill="#222"  stroke="#333" stroke-width="0.14">2.97 [2.67 - 3.30]</text>
<text x="165.70" y="588.50" font-size="4.0" text-anchor="end" font-weight="normal" fill="#222"  stroke="#333" stroke-width="0.14">E-MTAB-2573</text>
<text x="289.00" y="588.50" font-size="4.0" text-anchor="start" font-weight="normal" fill="#222"  stroke="#333" stroke-width="0.14">7.00 [0.47 - 103.27]</text>
<line x1="180.2" y1="587.1" x2="255" y2="587.1" stroke="#b9b9b9" stroke-width="1.1"/>
<text x="165.70" y="612.00" font-size="4.0" text-anchor="end" font-weight="normal" fill="#222"  stroke="#333" stroke-width="0.14">GSE236933</text>
<text x="289.00" y="612.00" font-size="4.0" text-anchor="start" font-weight="normal" fill="#222"  stroke="#333" stroke-width="0.14">2.96 [1.43 - 6.12]</text>
<line x1="195.5" y1="610.6" x2="215.7" y2="610.6" stroke="#333" stroke-width="0.55"/>
<text x="165.70" y="635.50" font-size="4.0" text-anchor="end" font-weight="normal" fill="#222"  stroke="#333" stroke-width="0.14">GSE39093</text>
<text x="289.00" y="635.50" font-size="4.0" text-anchor="start" font-weight="normal" fill="#222"  stroke="#333" stroke-width="0.14">4.50 [1.28 - 15.81]</text>
<line x1="193.8" y1="634.1" x2="228.8" y2="634.1" stroke="#b9b9b9" stroke-width="1.1"/>
<text x="165.70" y="659.00" font-size="4.0" text-anchor="end" font-weight="normal" fill="#222"  stroke="#333" stroke-width="0.14">TCGA_BLCA_miRNA</text>
<text x="289.00" y="659.00" font-size="4.0" text-anchor="start" font-weight="normal" fill="#222"  stroke="#333" stroke-width="0.14">28.31 [1.83 - 437.33]</text>
<line x1="199" y1="657.6" x2="274.8" y2="657.6" stroke="#333" stroke-width="0.55"/>
<line x1="207.8" y1="464.5" x2="207.8" y2="756.3" stroke="#c8283f" stroke-width="0.8" stroke-dasharray="4 2"/>
<rect x="202.70" y="514.30" width="4.6" height="4.6" fill="#a9a9a9"/>
<rect x="204.00" y="515.60" width="2" height="2" fill="#111"/>
<rect x="208.30" y="537.80" width="4.6" height="4.6" fill="#a9a9a9"/>
<rect x="209.60" y="539.10" width="2" height="2" fill="#111"/>
<rect x="203.30" y="561.30" width="4.6" height="4.6" fill="#a9a9a9"/>
<rect x="204.60" y="562.60" width="2" height="2" fill="#111"/>
<rect x="215.00" y="584.80" width="4.6" height="4.6" fill="#a9a9a9"/>
<rect x="216.30" y="586.10" width="2" height="2" fill="#111"/>
<rect x="203.40" y="608.30" width="4.6" height="4.6" fill="#a9a9a9"/>
<rect x="204.70" y="609.60" width="2" height="2" fill="#111"/>
<rect x="209.10" y="631.80" width="4.6" height="4.6" fill="#a9a9a9"/>
<rect x="210.40" y="633.10" width="2" height="2" fill="#111"/>
<rect x="234.40" y="655.30" width="4.6" height="4.6" fill="#a9a9a9"/>
<rect x="235.70" y="656.60" width="2" height="2" fill="#111"/>
<text x="165.70" y="706.00" font-size="4.0" text-anchor="end" font-weight="normal" fill="#222"  stroke="#333" stroke-width="0.14">COMBINED</text>
<text x="289.00" y="706.00" font-size="4.0" text-anchor="start" font-weight="normal" fill="#222"  stroke="#333" stroke-width="0.14"> 3.49[2.91 - 4.20]</text>
<polygon points="204.8,704.3000000000001 207.7,699.6 210.6,704.3000000000001 207.7,709.2" fill="none" stroke="#000" stroke-width="0.85"/>
<text x="289.00" y="729.50" font-size="4.0" text-anchor="start" font-weight="normal" fill="#222"  stroke="#333" stroke-width="0.14">Q = 50.24, df = 6.00, p =  0.00</text>
<text x="289.00" y="753.00" font-size="4.0" text-anchor="start" font-weight="normal" fill="#222"  stroke="#333" stroke-width="0.14">I2 = 88.04 [80.84 - 95.47]</text>
<line x1="401.5" y1="464" x2="401.5" y2="756.3" stroke="#444" stroke-width="0.7"/>
<line x1="507.5" y1="464" x2="507.5" y2="756.3" stroke="#444" stroke-width="0.7"/>
<line x1="401.5" y1="756.3" x2="507.5" y2="756.3" stroke="#444" stroke-width="0.7"/>
<line x1="407.4" y1="756.3" x2="407.4" y2="758.9" stroke="#444" stroke-width="0.6"/>
<text x="407.40" y="765.00" font-size="3.95" text-anchor="middle" font-weight="normal" fill="#222"  stroke="#333" stroke-width="0.14">0</text>
<line x1="501.6" y1="756.3" x2="501.6" y2="758.9" stroke="#444" stroke-width="0.6"/>
<text x="501.60" y="765.00" font-size="3.95" text-anchor="middle" font-weight="normal" fill="#222"  stroke="#333" stroke-width="0.14">1</text>
<text x="454.20" y="770.40" font-size="4.5" text-anchor="middle" font-weight="normal" fill="#222"  stroke="#333" stroke-width="0.14">DLR NEGATIVE</text>
<text x="393.00" y="471.00" font-size="4.0" text-anchor="end" font-weight="normal" fill="#222"  stroke="#333" stroke-width="0.14">StudyId</text>
<text x="515.80" y="471.00" font-size="4.0" text-anchor="start" font-weight="normal" fill="#222"  stroke="#333" stroke-width="0.14">DLR NEGATIVE (95% CI)</text>
<text x="393.00" y="518.00" font-size="4.0" text-anchor="end" font-weight="normal" fill="#222"  stroke="#333" stroke-width="0.14">GSE112264</text>
<text x="515.80" y="518.00" font-size="4.0" text-anchor="start" font-weight="normal" fill="#222"  stroke="#333" stroke-width="0.14">0.49 [0.33 - 0.72]</text>
<line x1="437.1" y1="516.6" x2="474.8" y2="516.6" stroke="#333" stroke-width="0.55"/>
<text x="393.00" y="541.50" font-size="4.0" text-anchor="end" font-weight="normal" fill="#222"  stroke="#333" stroke-width="0.14">GSE113486</text>
<text x="515.80" y="541.50" font-size="4.0" text-anchor="start" font-weight="normal" fill="#222"  stroke="#333" stroke-width="0.14">0.56 [0.49 - 0.63]</text>
<line x1="453.3" y1="540.1" x2="466.4" y2="540.1" stroke="#b9b9b9" stroke-width="1.1"/>
<text x="393.00" y="565.00" font-size="4.0" text-anchor="end" font-weight="normal" fill="#222"  stroke="#333" stroke-width="0.14">GSE211692</text>
<text x="515.80" y="565.00" font-size="4.0" text-anchor="start" font-weight="normal" fill="#222"  stroke="#333" stroke-width="0.14">0.56 [0.50 - 0.62]</text>
<line x1="453.3" y1="563.6" x2="464.8" y2="563.6" stroke="#333" stroke-width="0.55"/>
<text x="393.00" y="588.50" font-size="4.0" text-anchor="end" font-weight="normal" fill="#222"  stroke="#333" stroke-width="0.14">E-MTAB-2573</text>
<text x="515.80" y="588.50" font-size="4.0" text-anchor="start" font-weight="normal" fill="#222"  stroke="#333" stroke-width="0.14">0.33 [0.05 - 1.98]</text>
<line x1="413.6" y1="587.1" x2="501.4" y2="587.1" stroke="#b9b9b9" stroke-width="1.1"/>
<text x="393.00" y="612.00" font-size="4.0" text-anchor="end" font-weight="normal" fill="#222"  stroke="#333" stroke-width="0.14">GSE236933</text>
<text x="515.80" y="612.00" font-size="4.0" text-anchor="start" font-weight="normal" fill="#222"  stroke="#333" stroke-width="0.14">0.38 [0.22 - 0.66]</text>
<line x1="426.9" y1="610.6" x2="468.6" y2="610.6" stroke="#333" stroke-width="0.55"/>
<text x="393.00" y="635.50" font-size="4.0" text-anchor="end" font-weight="normal" fill="#222"  stroke="#333" stroke-width="0.14">GSE39093</text>
<text x="515.80" y="635.50" font-size="4.0" text-anchor="start" font-weight="normal" fill="#222"  stroke="#333" stroke-width="0.14">0.13 [0.02 - 0.82]</text>
<line x1="407.4" y1="634.1" x2="484.8" y2="634.1" stroke="#b9b9b9" stroke-width="1.1"/>
<text x="393.00" y="659.00" font-size="4.0" text-anchor="end" font-weight="normal" fill="#222"  stroke="#333" stroke-width="0.14">TCGA_BLCA_miRNA</text>
<text x="515.80" y="659.00" font-size="4.0" text-anchor="start" font-weight="normal" fill="#222"  stroke="#333" stroke-width="0.14">0.30 [0.25 - 0.35]</text>
<line x1="430" y1="657.6" x2="439.3" y2="657.6" stroke="#333" stroke-width="0.55"/>
<line x1="448.6" y1="464.5" x2="448.6" y2="756.3" stroke="#c8283f" stroke-width="0.8" stroke-dasharray="4 2"/>
<rect x="449.80" y="514.30" width="4.6" height="4.6" fill="#a9a9a9"/>
<rect x="451.10" y="515.60" width="2" height="2" fill="#111"/>
<rect x="456.70" y="537.80" width="4.6" height="4.6" fill="#a9a9a9"/>
<rect x="458.00" y="539.10" width="2" height="2" fill="#111"/>
<rect x="456.50" y="561.30" width="4.6" height="4.6" fill="#a9a9a9"/>
<rect x="457.80" y="562.60" width="2" height="2" fill="#111"/>
<rect x="435.10" y="584.80" width="4.6" height="4.6" fill="#a9a9a9"/>
<rect x="436.40" y="586.10" width="2" height="2" fill="#111"/>
<rect x="439.80" y="608.30" width="4.6" height="4.6" fill="#a9a9a9"/>
<rect x="441.10" y="609.60" width="2" height="2" fill="#111"/>
<rect x="415.30" y="631.80" width="4.6" height="4.6" fill="#a9a9a9"/>
<rect x="416.60" y="633.10" width="2" height="2" fill="#111"/>
<rect x="431.90" y="655.30" width="4.6" height="4.6" fill="#a9a9a9"/>
<rect x="433.20" y="656.60" width="2" height="2" fill="#111"/>
<text x="393.00" y="706.00" font-size="4.0" text-anchor="end" font-weight="normal" fill="#222"  stroke="#333" stroke-width="0.14">COMBINED</text>
<text x="515.80" y="706.00" font-size="4.0" text-anchor="start" font-weight="normal" fill="#222"  stroke="#333" stroke-width="0.14"> 0.45[0.36 - 0.57]</text>
<polygon points="439.3,704.3000000000001 448.6,699.6 460.0,704.3000000000001 448.6,709.2" fill="none" stroke="#000" stroke-width="0.85"/>
<text x="515.80" y="729.50" font-size="4.0" text-anchor="start" font-weight="normal" fill="#222"  stroke="#333" stroke-width="0.14">Q = 52.21, df = 6.00, p =  0.00</text>
<text x="515.80" y="753.00" font-size="4.0" text-anchor="start" font-weight="normal" fill="#222"  stroke="#333" stroke-width="0.14">I2 = 88.51 [81.45 - 95.57]</text>
</svg>
</body></html>
